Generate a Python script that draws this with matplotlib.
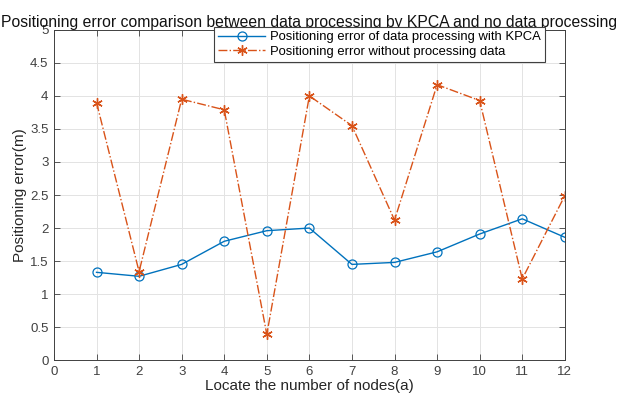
import matplotlib.pyplot as plt

plt.rcParams["font.family"] = ["Liberation Sans", "DejaVu Sans"]

nodes = [1, 2, 3, 4, 5, 6, 7, 8, 9, 10, 11, 12]
err_kpca = [1.33, 1.27, 1.45, 1.80, 1.96, 2.00, 1.45, 1.48, 1.64, 1.91, 2.14, 1.86]
err_raw = [3.90, 1.34, 3.95, 3.79, 0.39, 4.00, 3.55, 2.12, 4.17, 3.93, 1.23, 2.49]
x_ticks = list(range(0, 13))
y_ticks = [0, 0.5, 1, 1.5, 2, 2.5, 3, 3.5, 4, 4.5, 5]
y_labels = ["0", "0.5", "1", "1.5", "2", "2.5", "3", "3.5", "4", "4.5", "5"]

fig = plt.figure(figsize=(6.2, 3.98), dpi=100)
ax = fig.add_axes([0.087, 0.095, 0.824, 0.83])

ax.plot(nodes, err_kpca, color="#0072BD", linewidth=1.0, marker="o",
        markersize=6.5, markerfacecolor="none", markeredgewidth=0.9,
        label="Positioning error of data processing with KPCA")
ax.plot(nodes, err_raw, color="#D95319", linewidth=1.0, linestyle="-.",
        marker=(6, 2, 0), markersize=7.5, markeredgewidth=1.0,
        label="Positioning error without processing data")

ax.set_xlim(0, 12)
ax.set_ylim(0, 5)
ax.set_xticks(x_ticks)
ax.set_yticks(y_ticks)
ax.set_yticklabels(y_labels)
ax.tick_params(direction="in", top=True, right=True, labelsize=9.5,
               labelcolor="#404040", color="#404040", length=4, width=0.6, pad=4)
ax.grid(True, color="#e3e3e3", linewidth=0.7)
ax.set_axisbelow(True)
for s in ax.spines.values():
    s.set_color("#404040")
    s.set_linewidth(0.7)

ax.set_title("Positioning error comparison between data processing by KPCA and no data processing",
             fontsize=11.3, color="#111111", pad=2)
ax.set_xlabel("Locate the number of nodes(a)", fontsize=11, color="#262626", labelpad=1)
ax.set_ylabel("Positioning error(m)", fontsize=11, color="#262626", labelpad=2)

leg = ax.legend(loc="upper right", bbox_to_anchor=(0.961, 1.008), fontsize=9.4,
                frameon=True, fancybox=False, handlelength=3.6,
                borderpad=0.3, labelspacing=0.2, handletextpad=0.4,
                borderaxespad=0)
leg.get_frame().set_edgecolor("#404040")
leg.get_frame().set_linewidth(0.8)
leg.get_frame().set_alpha(1)

plt.savefig("out.png", dpi=100)
